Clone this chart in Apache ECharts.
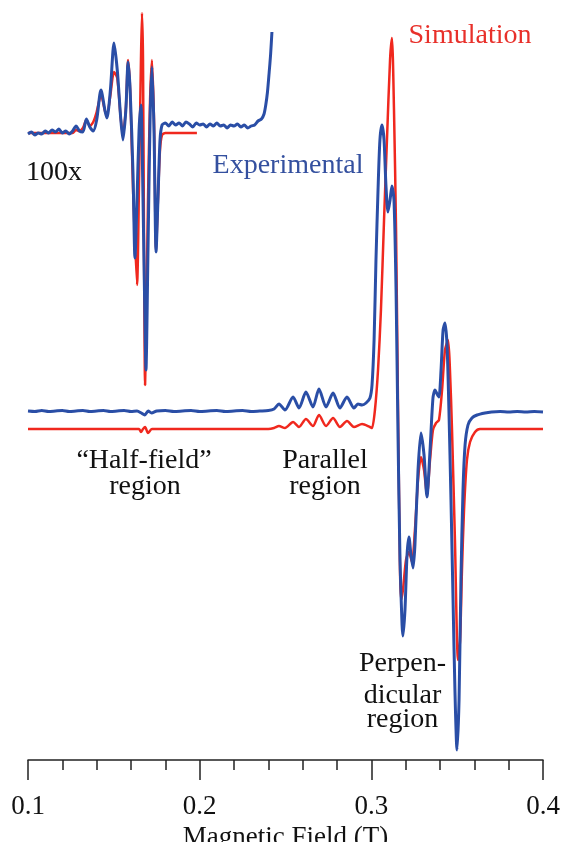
<!DOCTYPE html>
<html><head><meta charset="utf-8">
<script src="https://cdn.jsdelivr.net/npm/echarts@6/dist/echarts.min.js"></script>
<style>html,body{margin:0;padding:0;background:#fff}#c{width:566px;height:842px}</style>
</head><body><div id="c"></div>
<script>
// Magnetic field (T) vs. derivative EPR intensity (arbitrary units)
const tickLabels = ['0.1', '0.2', '0.3', '0.4'];

// 100x magnified half-field region (inset), experimental
const insetExp = [
[0.100,-0.01],[0.102,0.01],[0.104,-0.02],[0.106,0.00],[0.108,-0.01],[0.110,0.02],[0.112,0.00],[0.114,0.03],
[0.116,0.01],[0.118,0.04],[0.120,0.00],[0.122,0.02],[0.124,-0.01],[0.126,0.02],[0.128,0.07],[0.130,0.02],
[0.132,0.01],[0.134,0.14],[0.136,0.06],[0.138,0.02],[0.140,0.13],[0.1425,0.43],[0.145,0.21],[0.146,0.15],
[0.148,0.43],[0.1501,0.90],[0.152,0.63],[0.154,0.15],[0.1553,-0.07],[0.157,0.23],[0.1583,0.71],[0.1595,0.43],
[0.1612,-0.42],[0.1623,-1.25],[0.1635,-0.67],[0.1647,0.03],[0.1658,0.28],[0.1670,-0.67],[0.1682,-1.97],[0.1687,-2.37],
[0.1699,-1.17],[0.1711,0.13],[0.1722,0.66],[0.1734,0.03],[0.1746,-1.19],[0.1757,-0.67],[0.1769,-0.07],[0.1781,0.08],
[0.180,0.10],[0.182,0.07],[0.184,0.11],[0.186,0.08],[0.188,0.10],[0.190,0.07],[0.192,0.11],[0.194,0.09],
[0.196,0.06],[0.198,0.10],[0.200,0.08],[0.202,0.09],[0.204,0.06],[0.206,0.09],[0.208,0.07],[0.210,0.10],
[0.212,0.07],[0.214,0.08],[0.216,0.05],[0.218,0.08],[0.220,0.07],[0.222,0.09],[0.224,0.06],[0.226,0.08],
[0.228,0.05],[0.230,0.07],[0.232,0.08],[0.234,0.12],[0.236,0.14],[0.2375,0.19],[0.2385,0.28],[0.2395,0.41],
[0.2405,0.61],[0.2413,0.78],[0.2421,1.01]
];
// 100x magnified half-field region (inset), simulation
const insetSim = [
[0.100,0.00],[0.110,0.00],[0.120,0.00],[0.126,0.00],[0.128,0.03],[0.130,0.02],[0.132,0.05],[0.134,0.13],
[0.136,0.07],[0.138,0.11],[0.140,0.21],[0.1425,0.38],[0.145,0.21],[0.146,0.18],[0.148,0.38],[0.1501,0.61],
[0.152,0.55],[0.154,0.15],[0.1553,-0.02],[0.157,0.25],[0.1583,0.73],[0.1595,0.43],[0.1612,-0.57],[0.1635,-1.52],
[0.1647,-0.47],[0.1658,0.73],[0.1664,1.20],[0.1670,0.73],[0.1676,-1.17],[0.1682,-2.52],[0.1687,-2.07],[0.1699,-0.67],
[0.1711,0.33],[0.1722,0.73],[0.1734,0.13],[0.1746,-1.17],[0.1757,-0.67],[0.1769,-0.17],[0.1781,-0.02],[0.180,0.00],
[0.1984,0.00]
];
// Full spectrum, experimental
const mainExp = [
[0.100,0.00],[0.104,-0.005],[0.108,0.005],[0.112,-0.005],[0.116,0.00],[0.120,0.005],[0.124,-0.005],[0.128,0.00],
[0.132,0.005],[0.136,-0.005],[0.140,0.00],[0.144,0.005],[0.148,-0.005],[0.152,0.00],[0.156,0.005],[0.160,-0.005],
[0.1635,0.00],[0.166,-0.02],[0.168,-0.04],[0.170,0.00],[0.172,-0.02],[0.175,0.00],[0.180,0.005],[0.185,-0.005],
[0.190,0.00],[0.195,0.005],[0.200,-0.005],[0.205,0.00],[0.210,0.005],[0.215,-0.005],[0.220,0.00],[0.225,0.005],
[0.230,-0.005],[0.235,0.00],[0.240,0.005],[0.2433,0.02],[0.2462,0.07],[0.2497,0.01],[0.2544,0.14],[0.2579,0.03],
[0.2619,0.19],[0.2660,0.04],[0.2695,0.22],[0.2736,0.04],[0.2777,0.18],[0.2817,0.03],[0.2858,0.14],[0.2899,0.03],
[0.2922,0.07],[0.2946,0.06],[0.2969,0.08],[0.2992,0.13],[0.3004,0.26],[0.3016,0.71],[0.3027,1.51],[0.3039,2.21],
[0.3050,2.71],[0.3062,2.86],[0.3074,2.71],[0.3085,2.26],[0.3097,1.99],[0.3109,2.11],[0.3120,2.25],[0.3132,2.11],
[0.3144,1.21],[0.3155,-0.19],[0.3167,-1.49],[0.3179,-2.14],[0.3184,-2.25],[0.3196,-1.99],[0.3208,-1.44],[0.3219,-1.26],
[0.3231,-1.44],[0.3243,-1.57],[0.3254,-1.34],[0.3272,-0.59],[0.3289,-0.22],[0.3307,-0.44],[0.3324,-0.86],[0.3342,-0.39],
[0.3359,0.13],[0.3371,0.21],[0.3383,0.17],[0.3394,0.14],[0.3406,0.41],[0.3418,0.81],[0.3429,0.88],[0.3441,0.66],
[0.3452,0.01],[0.3464,-0.89],[0.3476,-1.89],[0.3487,-2.79],[0.3499,-3.39],[0.3511,-2.89],[0.3522,-1.69],[0.3534,-0.79],
[0.3546,-0.34],[0.3563,-0.14],[0.3586,-0.07],[0.3616,-0.04],[0.3662,-0.02],[0.370,-0.01],[0.375,-0.005],[0.380,-0.01],
[0.385,-0.005],[0.390,-0.01],[0.395,-0.005],[0.400,-0.01]
];
// Full spectrum, simulation (offset below)
const mainSim = [
[0.100,-0.18],[0.160,-0.18],[0.1647,-0.18],[0.1658,-0.21],[0.1670,-0.18],[0.1682,-0.16],[0.1699,-0.22],[0.1722,-0.18],
[0.240,-0.18],[0.2433,-0.17],[0.2462,-0.15],[0.2497,-0.17],[0.2544,-0.11],[0.2579,-0.16],[0.2619,-0.08],[0.2660,-0.15],
[0.2695,-0.04],[0.2736,-0.15],[0.2777,-0.07],[0.2817,-0.16],[0.2858,-0.10],[0.2899,-0.16],[0.2946,-0.13],[0.2992,-0.16],
[0.3004,-0.17],[0.3021,0.01],[0.3039,0.41],[0.3056,1.01],[0.3074,1.91],[0.3091,2.71],[0.3109,3.51],[0.3120,3.73],
[0.3132,3.01],[0.3144,1.81],[0.3155,0.11],[0.3167,-1.59],[0.3173,-1.89],[0.3184,-1.79],[0.3202,-1.49],[0.3219,-1.41],
[0.3237,-1.51],[0.3254,-1.19],[0.3272,-0.69],[0.3289,-0.46],[0.3307,-0.59],[0.3324,-0.84],[0.3342,-0.49],[0.3359,-0.19],
[0.3377,-0.12],[0.3394,-0.09],[0.3412,0.21],[0.3429,0.61],[0.3447,0.71],[0.3458,0.41],[0.3470,-0.19],[0.3487,-1.29],
[0.3505,-2.49],[0.3517,-2.29],[0.3528,-1.59],[0.3540,-0.99],[0.3557,-0.49],[0.3575,-0.31],[0.3604,-0.21],[0.3633,-0.18],
[0.400,-0.18]
];

const BLUE = '#2a4ea6', RED = '#f0281e';
const FONT = '"Liberation Serif", "Times New Roman", serif';

function txt(str, x, y, color) {
  return { type: 'text', x: x, y: y, silent: true,
    style: { text: str, fill: color || '#111', font: '28px ' + FONT, textAlign: 'center', textVerticalAlign: 'middle' } };
}

const chart = echarts.init(document.getElementById('c'), null, { renderer: 'canvas' });
chart.setOption({
  animation: false,
  backgroundColor: '#fff',
  grid: { left: 28, right: 23, top: 0, bottom: 82, containLabel: false, outerBoundsMode: 'none' },
  xAxis: {
    type: 'value', min: 0.1, max: 0.4, interval: 0.1,
    name: 'Magnetic Field (T)', nameLocation: 'middle', nameGap: 63,
    nameTextStyle: { fontFamily: FONT, fontSize: 27, color: '#111' },
    axisLine: { show: true, onZero: false, lineStyle: { color: '#222', width: 1.5 } },
    axisTick: { show: true, inside: false, length: 20, lineStyle: { color: '#222', width: 1.5 } },
    minorTick: { show: true, splitNumber: 5, length: 10, lineStyle: { color: '#222', width: 1.5 } },
    splitLine: { show: false },
    axisLabel: { margin: 33, fontFamily: FONT, fontSize: 27, color: '#111',
      formatter: function (v) { return tickLabels[Math.round((v - 0.1) / 0.1)] || ''; } }
  },
  yAxis: [
    { type: 'value', min: -3.49, max: 4.11, show: false, splitLine: { show: false } },
    { type: 'value', min: -6.27, max: 1.33, show: false, splitLine: { show: false } }
  ],
  series: [
    { type: 'line', name: 'Simulation', data: mainSim, yAxisIndex: 0, showSymbol: false, symbol: 'none', smooth: 0.25,
      lineStyle: { color: RED, width: 2.5 }, z: 2 },
    { type: 'line', name: 'Experimental', data: mainExp, yAxisIndex: 0, showSymbol: false, symbol: 'none', smooth: 0.25,
      lineStyle: { color: BLUE, width: 3 }, z: 3 },
    { type: 'line', name: 'Simulation 100x', data: insetSim, yAxisIndex: 1, showSymbol: false, symbol: 'none', smooth: 0.25,
      lineStyle: { color: RED, width: 2.5 }, z: 2 },
    { type: 'line', name: 'Experimental 100x', data: insetExp, yAxisIndex: 1, showSymbol: false, symbol: 'none', smooth: 0.25,
      lineStyle: { color: BLUE, width: 3 }, z: 3 }
  ],
  graphic: [
    txt('Simulation', 470, 35.5, '#e8302a'),
    txt('Experimental', 288, 165.5, '#34509f'),
    { type: 'text', x: 26, y: 172.5, silent: true,
      style: { text: '100x', fill: '#111', font: '28px ' + FONT, textAlign: 'left', textVerticalAlign: 'middle' } },
    txt('\u201cHalf-field\u201d', 144, 460.5),
    txt('region', 145, 486.5),
    txt('Parallel', 325, 460.5),
    txt('region', 325, 486.5),
    txt('Perpen-', 402.5, 663.5),
    txt('dicular', 402.5, 695.5),
    txt('region', 402.5, 719.5)
  ]
});
</script></body></html>
